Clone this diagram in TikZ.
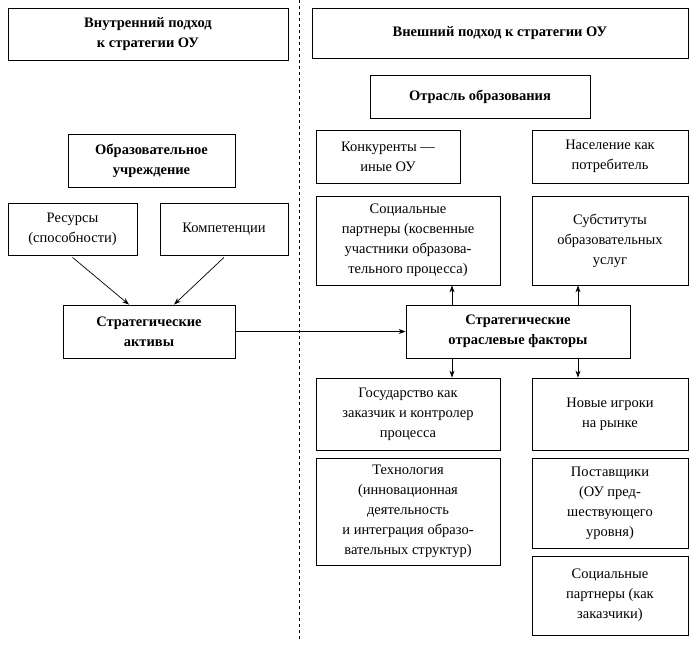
\documentclass[tikz,border=0pt]{standalone}
\usepackage{fontspec}
\setmainfont{Liberation Serif}
\usetikzlibrary{arrows.meta}
\begin{document}
\begin{tikzpicture}[x=1pt,y=-1pt,
  bx/.style={draw,line width=0.8pt,align=center,inner sep=0pt,font=\fontsize{14.5}{20}\selectfont},
  bb/.style={bx,font=\fontsize{14.5}{20}\selectfont\bfseries},
  ar/.style={-{Stealth[length=7pt,width=5pt]},line width=0.7pt}]
\useasboundingbox (0,0) rectangle (693,647);
\draw[dashed,line width=0.7pt] (299,0) -- (299,640);
\newcommand{\bxat}[7]{\node[#1,minimum width=#4-#3,minimum height=#6-#5] (#2) at ({(#3+#4)/2},{(#5+#6)/2}) {#7};}
\bxat{bb}{vn}{8}{288}{8}{60}{Внутренний подход\\к стратегии ОУ}
\bxat{bb}{ext}{312}{688}{8}{58}{Внешний подход к стратегии ОУ}
\bxat{bb}{otr}{370}{590}{75}{118}{Отрасль образования}
\bxat{bb}{ou}{68}{235}{134}{187}{Образовательное\\учреждение}
\bxat{bx}{konk}{316}{460}{130}{183}{Конкуренты —\\иные ОУ}
\bxat{bx}{nas}{532}{688}{130}{183}{Население как\\потребитель}
\bxat{bx}{res}{8}{137}{203}{255}{Ресурсы\\(способности)}
\bxat{bx}{komp}{160}{288}{203}{255}{Компетенции}
\bxat{bx}{sp}{316}{500}{196}{285}{Социальные\\партнеры (косвенные\\участники образова-\\тельного процесса)}
\bxat{bx}{sub}{532}{688}{196}{285}{Субституты\\образовательных\\услуг}
\bxat{bb}{akt}{63}{235}{305}{358}{Стратегические\\активы}
\bxat{bb}{fak}{406}{630}{305}{358}{Стратегические\\отраслевые факторы}
\bxat{bx}{gos}{316}{500}{378}{450}{Государство как\\заказчик и контролер\\процесса}
\bxat{bx}{nov}{532}{688}{378}{450}{Новые игроки\\на рынке}
\bxat{bx}{teh}{316}{500}{458}{565}{Технология\\(инновационная\\деятельность\\и интеграция образо-\\вательных структур)}
\bxat{bx}{post}{532}{688}{458}{548}{Поставщики\\(ОУ пред-\\шествующего\\уровня)}
\bxat{bx}{sp2}{532}{688}{556}{635}{Социальные\\партнеры (как\\заказчики)}
\draw[ar] (res.south)++(0,2) -- ([xshift=-20pt]akt.north);
\draw[ar] (komp.south)++(0,2) -- ([xshift=25pt]akt.north);
\draw[ar] (akt) -- (fak);
\draw[ar] (fak.north -| 452,0) -- (sp.south -| 452,0);
\draw[ar] (fak.north -| 578,0) -- (sub.south -| 578,0);
\draw[ar] (fak.south -| 452,0) -- (gos.north -| 452,0);
\draw[ar] (fak.south -| 578,0) -- (nov.north -| 578,0);
\end{tikzpicture}
\end{document}
